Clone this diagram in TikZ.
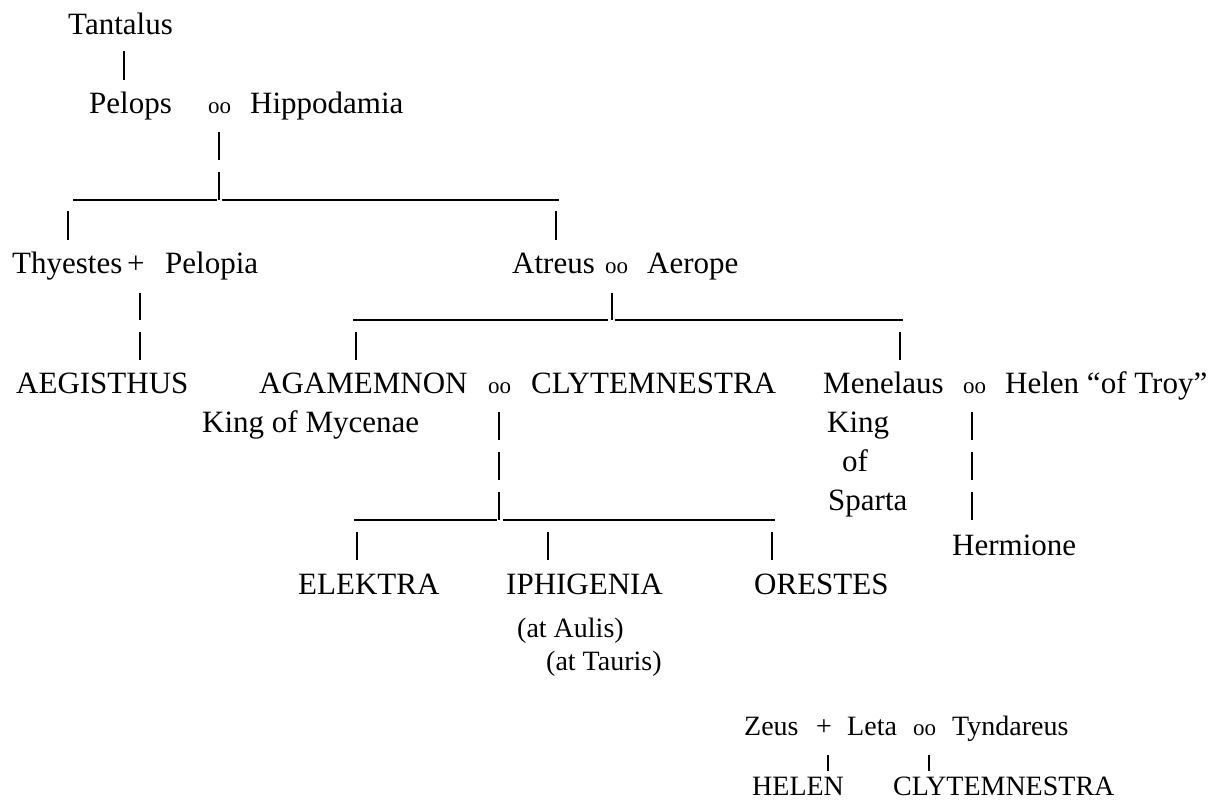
\documentclass[tikz,border=0pt]{standalone}
\usepackage{fontspec}
\setmainfont{Liberation Serif}
\tikzset{
  big/.style={anchor=base west, inner sep=0pt, font=\fontsize{31}{36}\selectfont},
  sm/.style={anchor=base west, inner sep=0pt, font=\fontsize{28}{33}\selectfont},
  oo/.style={anchor=base west, inner sep=0pt, font=\fontsize{23}{27}\selectfont},
  lnk/.style={line width=1.3pt, black}
}
\begin{document}
\begin{tikzpicture}[x=1pt,y=-1pt]
\useasboundingbox (0,0) rectangle (1223,803);
% generation 1-2
\node[big] (tantalus) at (68,34) {Tantalus};
\node[big] (pelops) at (89,113) {Pelops};
\node[oo] (m1) at (208,113) {oo};
\node[big] (hippo) at (250,113) {Hippodamia};
% generation 3
\node[big] (thyestes) at (12,273) {Thyestes};
\node[big] (plus1) at (127,273) {+};
\node[big] (pelopia) at (165,273) {Pelopia};
\node[big] (atreus) at (512,273) {Atreus};
\node[oo] (m2) at (605,273) {oo};
\node[big] (aerope) at (647,273) {Aerope};
% generation 4
\node[big] (aegisthus) at (16,393) {AEGISTHUS};
\node[big] (agamemnon) at (259,393) {AGAMEMNON};
\node[oo] (m3) at (488,393) {oo};
\node[big] (clyt) at (531,393) {CLYTEMNESTRA};
\node[big] (menelaus) at (823,393) {Menelaus};
\node[oo] (m4) at (963,393) {oo};
\node[big] (helen) at (1005,393) {Helen “of Troy”};
\node[big] (kingm) at (202,432) {King of Mycenae};
\node[big] (king) at (827,432) {King};
\node[big] (of) at (842,471) {of};
\node[big] (sparta) at (828,510) {Sparta};
\node[big] (hermione) at (952,555) {Hermione};
% generation 5
\node[big] (elektra) at (298,594) {ELEKTRA};
\node[big] (iphigenia) at (506,594) {IPHIGENIA};
\node[big] (orestes) at (754,594) {ORESTES};
\node[sm] (aulis) at (517,637) {(at Aulis)};
\node[sm] (tauris) at (546,670) {(at Tauris)};
% Helen / Clytemnestra parentage
\node[sm] (zeus) at (744,735) {Zeus};
\node[sm] (plus2) at (816,735) {+};
\node[sm] (leta) at (847,735) {Leta};
\node[oo] (m5) at (913,735) {oo};
\node[sm] (tyndareus) at (952,735) {Tyndareus};
\node[sm] (helen2) at (752,795) {HELEN};
\node[sm] (clyt2) at (893,795) {CLYTEMNESTRA};

% connectors
\draw[lnk] (124,51) coordinate (a1) -- (124,80) coordinate (a2);
\draw[lnk] (219,132) coordinate (b1) -- (219,160) coordinate (b2);
\draw[lnk] (219,172) coordinate (b3) -- (219,200) coordinate (b4);
\draw[lnk] (73,200) coordinate (c1) -- (217,200) coordinate (c2);
\draw[lnk] (222,200) coordinate (c3) -- (559,200) coordinate (c4);
\draw[lnk] (68,211) coordinate (d1) -- (68,240) coordinate (d2);
\draw[lnk] (556,211) coordinate (d3) -- (556,240) coordinate (d4);
\draw[lnk] (140,293) coordinate (e1) -- (140,320) coordinate (e2);
\draw[lnk] (140,332) coordinate (e3) -- (140,360) coordinate (e4);
\draw[lnk] (612,293) coordinate (f1) -- (612,320) coordinate (f2);
\draw[lnk] (353,320) coordinate (f3) -- (608,320) coordinate (f4);
\draw[lnk] (615,320) coordinate (f5) -- (903,320) coordinate (f6);
\draw[lnk] (356,332) coordinate (g1) -- (356,360) coordinate (g2);
\draw[lnk] (900,332) coordinate (g3) -- (900,360) coordinate (g4);
\draw[lnk] (499,412) coordinate (h1) -- (499,440) coordinate (h2);
\draw[lnk] (499,452) coordinate (h3) -- (499,480) coordinate (h4);
\draw[lnk] (499,492) coordinate (h5) -- (499,520) coordinate (h6);
\draw[lnk] (354,520) coordinate (i1) -- (497,520) coordinate (i2);
\draw[lnk] (503,520) coordinate (i3) -- (775,520) coordinate (i4);
\draw[lnk] (357,532) coordinate (j1) -- (357,560) coordinate (j2);
\draw[lnk] (548,532) coordinate (j3) -- (548,560) coordinate (j4);
\draw[lnk] (772,532) coordinate (j5) -- (772,560) coordinate (j6);
\draw[lnk] (972,412) coordinate (k1) -- (972,440) coordinate (k2);
\draw[lnk] (972,452) coordinate (k3) -- (972,480) coordinate (k4);
\draw[lnk] (972,492) coordinate (k5) -- (972,520) coordinate (k6);
\draw[lnk] (828,755) coordinate (l1) -- (828,771) coordinate (l2);
\draw[lnk] (929,755) coordinate (l3) -- (929,771) coordinate (l4);
\end{tikzpicture}
\end{document}
